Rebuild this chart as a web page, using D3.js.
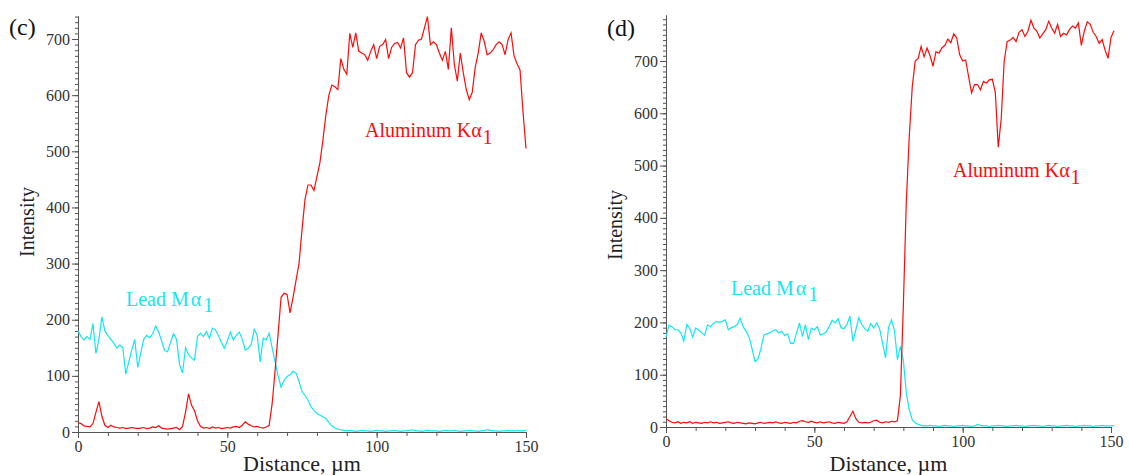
<!DOCTYPE html>
<html>
<head>
<meta charset="utf-8">
<script src="https://cdn.jsdelivr.net/npm/d3@7"></script>
<style>
  body { margin: 0; background: #fff; }
  text { font-family: "Liberation Serif", "Times New Roman", serif; }
</style>
</head>
<body>
<div id="chart"></div>
<script>
var distC = d3.range(0, 151)
var distD = d3.range(0, 152)

var leadC = [
  180,170,164,170,165,193,140,165,205,180,
  172,165,158,150,155,150,103,125,146,165,
  115,140,165,172,168,175,189,178,162,145,
  143,160,175,165,120,105,150,138,132,128,
  170,176,170,179,167,185,182,172,160,149,
  162,178,164,172,178,165,146,149,156,183,
  172,125,167,164,176,150,125,100,80,92,
  99,102,108,105,90,72,65,57,45,38,
  33,30,27,24,17,11,7,5,4,3,
  2,3,2,1,2,3,2,2,1,2,
  3,2,2,1,2,2,3,2,1,2,
  2,3,4,2,2,1,2,3,2,2,
  2,1,2,3,2,2,3,2,1,2,
  2,3,2,2,1,2,3,4,3,2,
  2,1,2,2,3,2,2,3,2,2,
  3
]

var alC = [
  17,15,11,10,9,15,35,54,28,12,
  8,12,9,8,7,8,6,7,8,7,
  6,7,8,6,7,9,8,11,7,6,
  5,6,7,8,4,10,35,68,48,38,
  20,10,7,8,6,9,7,8,6,7,
  8,7,9,10,8,12,18,14,11,9,
  10,8,7,9,12,50,110,175,240,247,
  245,212,240,270,300,360,414,440,440,430,
  455,480,520,565,600,618,615,610,665,646,
  637,710,685,711,678,675,672,662,678,690,
  665,687,690,699,665,685,692,694,684,702,
  640,632,640,690,698,700,720,740,690,695,
  690,675,662,678,646,720,655,625,675,640,
  610,592,605,650,675,711,696,672,675,681,
  690,695,690,672,699,711,670,656,645,570,
  505
]

var leadD = [
  172,195,192,186,186,180,164,196,189,172,
  189,186,180,176,195,192,198,202,200,202,
  205,186,190,192,196,208,192,183,172,150,
  125,130,150,176,178,180,184,186,180,183,
  175,178,160,160,180,199,173,196,167,189,
  186,192,176,178,182,192,204,199,207,190,
  188,196,212,164,186,209,196,188,183,198,
  189,199,188,160,132,190,205,185,129,154,
  128,65,33,14,8,5,3,2,2,3,
  2,2,1,2,3,2,2,1,2,2,
  3,2,2,1,2,5,3,2,2,1,
  2,2,3,2,2,1,2,2,3,2,
  2,1,2,2,3,2,2,1,2,3,
  2,2,1,2,2,3,2,2,1,2,
  2,3,2,2,1,2,2,3,2,2,
  2,3
]

var alD = [
  16,12,9,8,10,7,9,8,10,7,
  9,8,7,9,8,10,8,9,7,8,
  9,10,8,7,9,8,7,6,8,7,
  6,8,9,7,8,9,8,10,8,7,
  9,8,7,9,8,11,12,10,9,11,
  9,8,10,8,9,10,8,7,9,8,
  7,10,20,30,16,9,8,9,8,9,
  12,13,9,8,10,9,11,10,12,60,
  231,430,556,650,700,705,728,708,725,710,
  690,718,715,725,730,742,735,752,744,712,
  700,702,670,639,655,655,645,661,658,664,
  665,640,535,590,700,737,740,745,737,755,
  760,747,757,778,763,757,744,752,760,776,
  763,753,770,747,753,750,760,767,763,773,
  730,757,775,770,755,747,734,741,721,705,
  745,758
]

const RED = "#ff0a0a"
const CYAN = "#10e8f0"

const svg = d3.select("#chart").append("svg")
    .attr("width", 1129).attr("height", 475)

function panel(cfg) {
    const g = svg.append("g")
    const x = d3.scaleLinear().domain([0, 150]).range(cfg.xr)
    const y = d3.scaleLinear().domain([0, cfg.ymax]).range(cfg.yr)

    // minor y ticks
    g.append("g").attr("transform", `translate(${cfg.xr[0]},0)`)
        .call(d3.axisLeft(y).tickValues(d3.range(0, cfg.ymax, 10)).tickSize(3).tickFormat("").tickSizeOuter(0))
    // major y ticks
    g.append("g").attr("transform", `translate(${cfg.xr[0]},0)`)
        .call(d3.axisLeft(y).tickValues(d3.range(0, 701, 100)).tickSize(6).tickPadding(2).tickSizeOuter(0))
    // x ticks
    g.append("g").attr("transform", `translate(0,${cfg.yr[0]})`)
        .call(d3.axisBottom(x).tickValues(d3.range(0, 151, 10)).tickSize(4).tickFormat("").tickSizeOuter(0))
    g.append("g").attr("transform", `translate(0,${cfg.yr[0]})`)
        .call(d3.axisBottom(x).tickValues([0, 50, 100, 150]).tickSize(6).tickPadding(3).tickSizeOuter(0))

    g.selectAll(".domain").attr("stroke", "#555")
    g.selectAll(".tick line").attr("stroke", "#555")
    g.selectAll(".tick text").attr("font-size", 16).attr("fill", "#333")
        .attr("font-family", "Liberation Serif, serif")

    const line = d3.line().x((d, i) => x(cfg.dist[i])).y(d => y(d))

    g.append("path").datum(cfg.lead).attr("d", line)
        .attr("fill", "none").attr("stroke", CYAN).attr("stroke-width", 1.2)
    g.append("path").datum(cfg.al).attr("d", line)
        .attr("fill", "none").attr("stroke", RED).attr("stroke-width", 1.2)

    // axis titles
    g.append("text").attr("x", (cfg.xr[0] + cfg.xr[1]) / 2).attr("y", 471)
        .attr("text-anchor", "middle").attr("font-size", 22).attr("fill", "#222")
        .text("Distance, µm")
    g.append("text").attr("transform", `translate(${cfg.xr[0] - 44},${cfg.ytitle}) rotate(-90)`)
        .attr("text-anchor", "middle").attr("font-size", 20).attr("fill", "#222")
        .text("Intensity")

    // panel letter
    g.append("text").attr("x", cfg.tag[0]).attr("y", cfg.tag[1])
        .attr("font-size", 24).attr("fill", "#111").text(cfg.tagText)

    // series labels
    const lt = g.append("text").attr("x", cfg.leadLab[0]).attr("y", cfg.leadLab[1])
        .attr("font-size", 20).attr("fill", CYAN)
    lt.append("tspan").text("Lead M")
    lt.append("tspan").attr("dx", 2).text("α")
    lt.append("tspan").attr("dx", 2).attr("dy", 6).text("1")

    const at = g.append("text").attr("x", cfg.alLab[0]).attr("y", cfg.alLab[1])
        .attr("font-size", 20).attr("fill", RED)
    at.append("tspan").text("Aluminum K")
    at.append("tspan").text("α")
    at.append("tspan").attr("dx", 1).attr("dy", 7).text("1")
}

panel({
    xr: [78, 526], yr: [432, 16], ymax: 741,
    dist: distC, lead: leadC, al: alC,
    ytitle: 222, tag: [9, 35], tagText: "(c)",
    leadLab: [126, 306], alLab: [365, 137]
})

panel({
    xr: [666, 1111], yr: [427, 15], ymax: 788,
    dist: distD, lead: leadD, al: alD,
    ytitle: 225, tag: [607, 36], tagText: "(d)",
    leadLab: [731, 295], alLab: [953, 177]
})
</script>
</body>
</html>
